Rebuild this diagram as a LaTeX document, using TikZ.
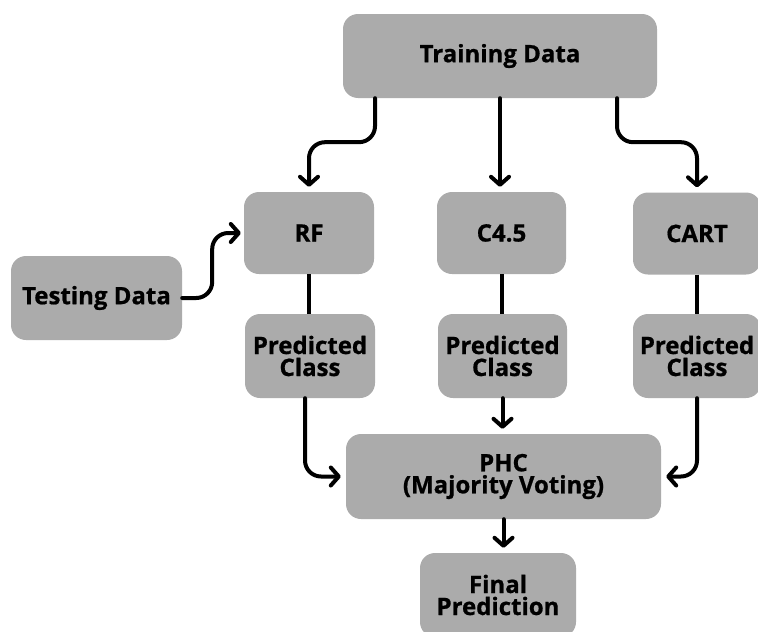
\documentclass[tikz,border=0pt]{standalone}
\usepackage{fontspec}
\setmainfont{Open Sans}[BoldFeatures={FakeBold=0.8}]
\usetikzlibrary{arrows.meta}
\definecolor{boxgray}{HTML}{ABABAB}
\tikzset{
  box/.style={fill=boxgray, rounded corners=15pt, inner sep=0pt, align=center,
    font=\fontsize{24}{22}\selectfont\bfseries, text=black},
  arr/.style={line width=4pt, line cap=round, rounded corners=16pt,
    -{Straight Barb[length=8pt,width=18pt,line width=4pt, round]}},
  link/.style={line width=4pt}
}
\begin{document}
\begin{tikzpicture}[x=1pt,y=-1pt]
\useasboundingbox (0,0) rectangle (758,632);
\node[box, minimum width=314pt, minimum height=84pt] (td) at (500,56) {Training Data};
\node[box, minimum width=130pt, minimum height=82pt] (rf) at (309,233) {RF};
\node[box, minimum width=129pt, minimum height=82pt] (c45) at (501.5,233) {C4.5};
\node[box, minimum width=128pt, minimum height=82pt] (cart) at (697,233.5) {CART};
\node[box, minimum width=171pt, minimum height=84pt] (test) at (96.5,298) {Testing Data};
\node[box, minimum width=130pt, minimum height=84pt] (p1) at (310,356) {Predicted\\Class};
\node[box, minimum width=129pt, minimum height=84pt] (p2) at (502.5,356) {Predicted\\Class};
\node[box, minimum width=128pt, minimum height=84pt] (p3) at (697,356) {Predicted\\Class};
\node[box, minimum width=315pt, minimum height=85pt] (phc) at (503.5,476.5) {PHC\\(Majority Voting)};
\node[box, minimum width=156pt, minimum height=84pt] (fin) at (498,595) {Final\\Prediction};

\coordinate (t1) at ([xshift=-125pt]td.south);
\coordinate (t3) at ([xshift=117pt]td.south);
\draw[arr] (t1) -- ++(0,44) -| ([yshift=5pt]rf.north);
\draw[arr] (td.south) -- ([yshift=5pt]td.south |- c45.north);
\draw[arr] (t3) -- ++(0,44) -| ([yshift=5pt]cart.north);
\draw[arr] (test.east) -- ++(30,0) |- ([xshift=-3pt]rf.west);

\draw[link] (rf.south) -- (rf.south |- p1.north);
\draw[link] (c45.south) -- (c45.south |- p2.north);
\draw[link] (cart.south) -- (cart.south |- p3.north);

\draw[arr] ([xshift=-5pt]p1.south) |- ([xshift=-5pt]phc.west);
\draw[arr] (p2.south) -- ([yshift=5pt]p2.south |- phc.north);
\draw[arr] (p3.south) |- ([xshift=5pt]phc.east);
\draw[arr] (phc.south) -- ([yshift=5pt]phc.south |- fin.north);
\end{tikzpicture}
\end{document}
